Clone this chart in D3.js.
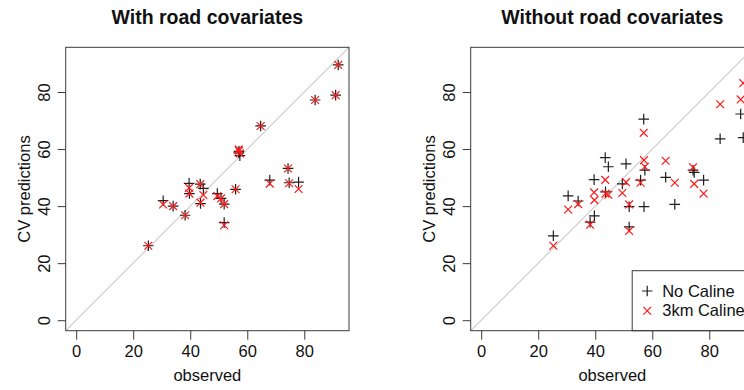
<!DOCTYPE html>
<html>
<head>
<meta charset="utf-8">
<script src="https://cdn.jsdelivr.net/npm/d3@7"></script>
<style>
  body { margin: 0; background: #fff; }
  svg { display: block; font-family: "Liberation Sans", Arial, Helvetica, sans-serif; }
  .frame { fill: none; stroke: #3a3a3a; stroke-width: 1; }
  .tick line { stroke: #3a3a3a; }
  .tick text { fill: #111; font-size: 16.5px; }
  .diag { stroke: #cfcfcf; stroke-width: 1.2; }
  .pt-plus { stroke: #1e1e1e; stroke-width: 1.2; }
  .pt-cross { stroke: #ff1a1a; stroke-width: 1.2; }
</style>
</head>
<body>
<svg id="chart" width="744" height="390"></svg>
<script>
// observed concentrations, shared by both panels
var observed = [25.3, 30.5, 34.0, 38.2, 39.6, 39.7, 43.5, 44.6, 43.6, 49.5, 50.8, 51.9, 51.9,
  55.9, 57.0, 57.4, 57.1, 64.7, 67.9, 74.3, 74.7, 78.0, 83.8, 91.0, 91.9];

// "With road covariates" panel
var withNoCaline = [26.1, 41.9, 40.0, 36.8, 48.0, 44.4, 47.7, 46.2, 40.9, 44.4, 42.7, 40.7, 34.2,
  45.9, 58.7, 57.7, 59.2, 68.1, 49.1, 53.2, 48.2, 48.4, 77.2, 78.9, 89.5];
var with3km = [26.1, 40.6, 40.0, 36.8, 46.4, 44.4, 47.7, 43.9, 41.2, 43.5, 42.7, 40.7, 33.3,
  45.9, 59.9, 58.5, 59.4, 68.1, 47.9, 53.2, 48.0, 46.0, 77.2, 78.9, 89.5];

// "Without road covariates" panel
var withoutNoCaline = [29.6, 43.6, 41.8, 34.4, 49.3, 36.6, 57.0, 53.8, 45.0, 47.8, 54.8, 39.8, 32.7,
  49.1, 70.5, 52.6, 39.8, 50.1, 40.6, 52.6, 51.8, 49.1, 63.6, 72.3, 64.0];
var without3km = [26.1, 38.8, 40.7, 33.5, 44.8, 42.1, 49.2, 44.0, 44.4, 44.6, 48.4, 40.6, 31.3,
  48.2, 65.7, 53.8, 56.1, 55.9, 48.2, 53.6, 47.8, 44.4, 75.7, 77.4, 83.1];

var panelTitles = ["With road covariates", "Without road covariates"];
var axisTicks = [0, 20, 40, 60, 80];
var axisLimits = [0, 92];
var legendLabels = ["No Caline", "3km Caline"];

function drawPanel(svg, left, title, plusVals, crossVals, withLegend) {
  var top = 47.3;
  var width = 283.3;
  var height = 283.4;
  var pad = (axisLimits[1] - axisLimits[0]) * 0.04;   // R style 4% expansion

  var x = d3.scaleLinear()
    .domain([axisLimits[0] - pad, axisLimits[1] + pad])
    .range([left, left + width])
  ;
  var y = d3.scaleLinear()
    .domain([axisLimits[0] - pad, axisLimits[1] + pad])
    .range([top + height, top])
  ;

  var g = svg.append('g');
  var clipId = 'clip-' + Math.round(left);

  svg.append('defs')
    .append('clipPath')
    .attr('id', clipId)
    .append('rect')
    .attr('x', left)
    .attr('y', top)
    .attr('width', width)
    .attr('height', height)
  ;

  // identity line
  g.append('line')
    .attr('class', 'diag')
    .attr('clip-path', 'url(#' + clipId + ')')
    .attr('x1', x(x.domain()[0]))
    .attr('y1', y(x.domain()[0]))
    .attr('x2', x(x.domain()[1]))
    .attr('y2', y(x.domain()[1]))
  ;

  var xAxis = g.append('g')
    .attr('transform', 'translate(0,' + (top + height) + ')')
    .call(d3.axisBottom(x).tickValues(axisTicks).tickSize(9).tickPadding(6).tickSizeOuter(0))
  ;
  xAxis.select('.domain').remove();
  xAxis.selectAll('text').attr('dy', '0.71em');

  var yAxis = g.append('g')
    .attr('transform', 'translate(' + left + ',0)')
    .call(d3.axisLeft(y).tickValues(axisTicks).tickSize(8).tickSizeOuter(0))
  ;
  yAxis.select('.domain').remove();
  yAxis.selectAll('text')
    .attr('transform', 'rotate(-90)')
    .attr('x', 0)
    .attr('y', -15.5)
    .attr('dy', 0)
    .attr('text-anchor', 'middle')
  ;

  // black plus signs
  var pts = observed.map(function(o, i) {
    return { obs: o, a: plusVals[i], b: crossVals[i] };
  });

  var s = 5.3;
  g.append('g')
    .selectAll('path')
    .data(pts)
    .enter()
    .append('path')
    .attr('class', 'pt-plus')
    .attr('d', function(d) {
      var cx = x(d.obs), cy = y(d.a);
      return 'M' + (cx - s) + ',' + cy + 'H' + (cx + s) + 'M' + cx + ',' + (cy - s) + 'V' + (cy + s);
    })
  ;

  var c = 3.9;
  g.append('g')
    .selectAll('path')
    .data(pts)
    .enter()
    .append('path')
    .attr('class', 'pt-cross')
    .attr('d', function(d) {
      var cx = x(d.obs), cy = y(d.b);
      return 'M' + (cx - c) + ',' + (cy - c) + 'L' + (cx + c) + ',' + (cy + c) +
        'M' + (cx - c) + ',' + (cy + c) + 'L' + (cx + c) + ',' + (cy - c);
    })
  ;

  if (withLegend) {
    var lx = left + 161.5;
    var ly = 270.7;
    g.append('rect')
      .attr('class', 'frame')
      .attr('x', lx)
      .attr('y', ly)
      .attr('width', left + width - lx)
      .attr('height', top + height - ly)
    ;
    var rows = g.append('g')
      .selectAll('g')
      .data(legendLabels)
      .enter()
      .append('g')
      .attr('transform', function(d, i) {
        return 'translate(' + (lx + 15) + ',' + (ly + 20.3 + i * 19.7) + ')';
      })
    ;
    rows.append('path')
      .attr('class', function(d, i) { return i === 0 ? 'pt-plus' : 'pt-cross'; })
      .attr('d', function(d, i) {
        if (i === 0) return 'M' + (-s) + ',0H' + s + 'M0,' + (-s) + 'V' + s;
        return 'M' + (-c) + ',' + (-c) + 'L' + c + ',' + c + 'M' + (-c) + ',' + c + 'L' + c + ',' + (-c);
      })
    ;
    rows.append('text')
      .attr('x', 15)
      .attr('dy', '0.35em')
      .style('font-size', '16.5px')
      .style('fill', '#111')
      .text(function(d) { return d; })
    ;
  }

  g.append('rect')
    .attr('class', 'frame')
    .attr('x', left)
    .attr('y', top)
    .attr('width', width)
    .attr('height', height)
  ;

  g.append('text')
    .attr('x', left + width / 2)
    .attr('y', 24)
    .attr('text-anchor', 'middle')
    .style('font-size', '19.5px')
    .style('font-weight', 'bold')
    .style('fill', '#111')
    .text(title)
  ;

  g.append('text')
    .attr('x', left + width / 2)
    .attr('y', 381)
    .attr('text-anchor', 'middle')
    .style('font-size', '16.5px')
    .style('fill', '#111')
    .text('observed')
  ;

  g.append('text')
    .attr('transform', 'translate(' + (left - 36) + ',' + (top + height / 2) + ') rotate(-90)')
    .attr('text-anchor', 'middle')
    .style('font-size', '16.5px')
    .style('fill', '#111')
    .text('CV predictions')
  ;
}

var svg = d3.select('#chart');
drawPanel(svg, 65.7, panelTitles[0], withNoCaline, with3km, false);
drawPanel(svg, 470.7, panelTitles[1], withoutNoCaline, without3km, true);
</script>
</body>
</html>
